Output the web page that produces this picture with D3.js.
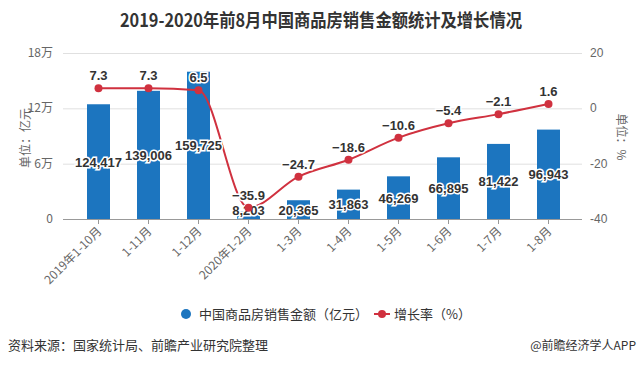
<!DOCTYPE html>
<html>
<head>
<meta charset="utf-8">
<script src="https://cdn.jsdelivr.net/npm/d3@7"></script>
<style>
  body { margin: 0; background: #fff; }
  text { font-family: "Liberation Sans", "Noto Sans CJK SC", sans-serif; }
</style>
</head>
<body>
<svg class="chart" width="638" height="365"></svg>
<script>
// data
var categories = ["2019年1-10月", "1-11月", "1-12月", "2020年1-2月", "1-3月", "1-4月", "1-5月", "1-6月", "1-7月", "1-8月"];
var sales = [124417, 139006, 159725, 8203, 20365, 31863, 46269, 66895, 81422, 96943];
var growth = [7.3, 7.3, 6.5, -35.9, -24.7, -18.6, -10.6, -5.4, -2.1, 1.6];
var leftTicks = [0, 60000, 120000, 180000];
var leftTickLabels = ["0", "6万", "12万", "18万"];
var rightTicks = [-40, -20, 0, 20];

var svg = d3.select(".chart");
var cjk = '"Noto Sans CJK SC", sans-serif';

var margin = {top: 53, left: 63, right: 56, bottom: 146},
    width = 638 - margin.left - margin.right,
    height = 365 - margin.top - margin.bottom;

var g = svg.append("g").attr("transform", "translate(" + margin.left + "," + margin.top + ")");

var x = d3.scaleBand()
    .domain(categories)
    .range([10.5, 510.5])
    .paddingInner(0.54)
    .paddingOuter(0.27);

var yL = d3.scaleLinear().domain([0, 180000]).range([height, 0]);
var yR = d3.scaleLinear().domain([-40, 20]).range([height, 0]);

// title
svg.append("text")
    .attr("x", 321).attr("y", 27)
    .attr("text-anchor", "middle")
    .style("font-family", cjk)
    .style("font-weight", "bold")
    .style("font-size", "18px")
    .attr("fill", "#333")
    .attr("textLength", 402)
    .attr("lengthAdjust", "spacingAndGlyphs")
    .text("2019-2020年前8月中国商品房销售金额统计及增长情况");

// grid
g.selectAll(".grid")
    .data(leftTicks.slice(1))
    .enter().append("line")
    .attr("x1", 0).attr("x2", width)
    .attr("y1", function(d) { return yL(d) + 0.5; })
    .attr("y2", function(d) { return yL(d) + 0.5; })
    .attr("stroke", "#e0e0e0");

// left axis labels
g.selectAll(".lt")
    .data(leftTicks)
    .enter().append("text")
    .attr("x", -10)
    .attr("y", function(d) { return yL(d) + 4; })
    .attr("text-anchor", "end")
    .style("font-family", cjk)
    .style("font-size", "12px")
    .attr("fill", "#666")
    .text(function(d, i) { return leftTickLabels[i]; });

// right axis labels
g.selectAll(".rt")
    .data(rightTicks)
    .enter().append("text")
    .attr("x", width + 8)
    .attr("y", function(d) { return yR(d) + 4; })
    .style("font-size", "12px")
    .attr("fill", "#666")
    .text(function(d) { return d; });

// axis titles
svg.append("text")
    .attr("transform", "translate(30,138) rotate(-90)")
    .attr("text-anchor", "middle")
    .style("font-family", cjk)
    .style("font-size", "12px")
    .attr("fill", "#666")
    .text("单位：亿元");
svg.append("text")
    .attr("transform", "translate(617,137) rotate(90)")
    .attr("text-anchor", "middle")
    .style("font-family", cjk)
    .style("font-size", "12px")
    .attr("fill", "#666")
    .text("单位：%");

// bars
g.selectAll(".bar")
    .data(sales)
    .enter().append("rect")
    .attr("class", "bar")
    .attr("x", function(d, i) { return x(categories[i]); })
    .attr("width", x.bandwidth())
    .attr("y", function(d) { return yL(d); })
    .attr("height", function(d) { return height - yL(d); })
    .attr("fill", "#1c75bf");

// x axis
var xAxis = d3.axisBottom(x).tickSize(5).tickSizeOuter(0).tickFormat("");
var ax = g.append("g")
    .attr("transform", "translate(0," + height + ")")
    .call(xAxis);
ax.select(".domain").attr("stroke", "#999").attr("d", "M0,0.5H" + width);
ax.selectAll(".tick line").attr("stroke", "#999");

g.selectAll(".xl")
    .data(categories)
    .enter().append("text")
    .attr("transform", function(d) {
        return "translate(" + (x(d) + x.bandwidth() / 2 + 4) + "," + (height + 13) + ") rotate(-45)";
    })
    .attr("text-anchor", "end")
    .style("font-family", cjk)
    .style("font-size", "12px")
    .attr("fill", "#666")
    .text(function(d) { return d; });

// line
var cx = function(i) { return x(categories[i]) + x.bandwidth() / 2; };
var line = d3.line()
    .x(function(d, i) { return cx(i); })
    .y(function(d) { return yR(d); })
    .curve(d3.curveMonotoneX);

g.append("path")
    .datum(growth)
    .attr("d", line)
    .attr("fill", "none")
    .attr("stroke", "#d0313f")
    .attr("stroke-width", 2);

// bar labels
g.selectAll(".bl")
    .data(sales)
    .enter().append("text")
    .attr("x", function(d, i) { return cx(i); })
    .attr("y", function(d) { return Math.min((yL(d) + height) / 2, height - 9) + 5; })
    .attr("text-anchor", "middle")
    .style("font-weight", "bold")
    .style("font-size", "13px")
    .attr("fill", "#333")
    .attr("stroke", "#fff")
    .attr("stroke-width", 3)
    .attr("paint-order", "stroke")
    .text(function(d) { return d3.format(",")(d); });

// points
g.selectAll(".pt")
    .data(growth)
    .enter().append("circle")
    .attr("cx", function(d, i) { return cx(i); })
    .attr("cy", function(d) { return yR(d); })
    .attr("r", 4)
    .attr("fill", "#d0313f");

// point labels
g.selectAll(".pl")
    .data(growth)
    .enter().append("text")
    .attr("x", function(d, i) { return cx(i); })
    .attr("y", function(d) { return yR(d) - 8; })
    .attr("text-anchor", "middle")
    .style("font-weight", "bold")
    .style("font-size", "13px")
    .attr("fill", "#333")
    .attr("stroke", "#fff")
    .attr("stroke-width", 3)
    .attr("paint-order", "stroke")
    .text(function(d) { return d < 0 ? "−" + Math.abs(d) : d; });

// legend
var leg = svg.append("g");
leg.append("circle").attr("cx", 186).attr("cy", 314).attr("r", 5).attr("fill", "#1c75bf");
leg.append("text").attr("x", 199).attr("y", 319)
    .style("font-family", cjk).style("font-size", "13px").attr("fill", "#333")
    .text("中国商品房销售金额（亿元）");
leg.append("line").attr("x1", 374).attr("x2", 390).attr("y1", 314).attr("y2", 314)
    .attr("stroke", "#d0313f").attr("stroke-width", 2);
leg.append("circle").attr("cx", 382).attr("cy", 314).attr("r", 4).attr("fill", "#d0313f");
leg.append("text").attr("x", 394).attr("y", 319)
    .style("font-family", cjk).style("font-size", "13px").attr("fill", "#333")
    .text("增长率（%）");

// source
svg.append("text").attr("x", 8).attr("y", 350)
    .style("font-family", cjk).style("font-size", "13px").attr("fill", "#333")
    .text("资料来源：国家统计局、前瞻产业研究院整理");
svg.append("text").attr("x", 636).attr("y", 350).attr("text-anchor", "end")
    .style("font-family", cjk).style("font-size", "12px").attr("fill", "#333")
    .text("@前瞻经济学人APP");
</script>
</body>
</html>
